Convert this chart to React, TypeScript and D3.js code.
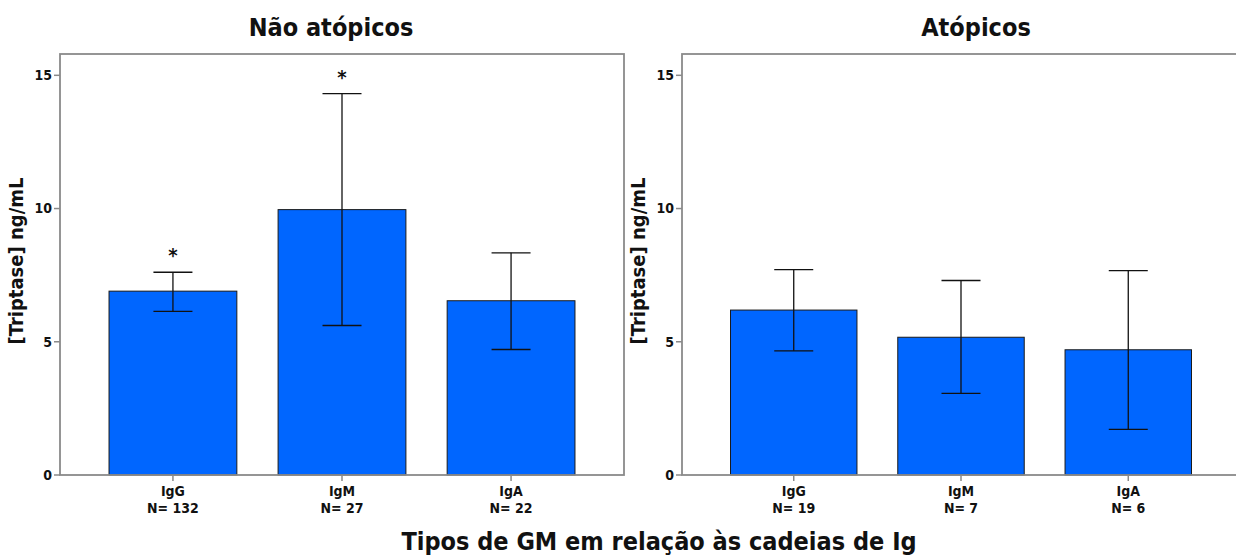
import React from "react";
import * as d3 from "d3";

// Mean tryptase by GM type (Ig chain), with confidence intervals
const categories = ["IgG", "IgM", "IgA"];

const nonAtopicN = [132, 27, 22];
const nonAtopicMean = [6.9, 9.96, 6.54];
const nonAtopicLow = [6.14, 5.61, 4.71];
const nonAtopicHigh = [7.61, 14.31, 8.34];
const nonAtopicStar = [true, true, false];

const atopicN = [19, 7, 6];
const atopicMean = [6.19, 5.17, 4.7];
const atopicLow = [4.66, 3.06, 1.71];
const atopicHigh = [7.71, 7.3, 7.67];
const atopicStar = [false, false, false];

const yTicks = [0, 5, 10, 15];

const W = 1236;
const H = 557;
const FONT = "'DejaVu Sans Condensed', 'DejaVu Sans', sans-serif";
const BLUE = "#0066ff";
const FRAME = "#8a8a8a";

type PanelProps = {
  title: string;
  titleX: number;
  x0: number;
  x1: number;
  n: number[];
  mean: number[];
  low: number[];
  high: number[];
  star: boolean[];
};

const TOP = 54;
const BOTTOM = 475;

function Panel({ title, titleX, x0, x1, n, mean, low, high, star }: PanelProps) {
  const x = d3
    .scaleBand<string>()
    .domain(categories)
    .range([x0, x1])
    .paddingInner(0.244)
    .paddingOuter(0.29);
  const y = d3.scaleLinear().domain([0, 15.8]).range([BOTTOM, TOP]);
  const bw = x.bandwidth();
  const cap = 19.5;

  return (
    <g>
      <text
        x={titleX}
        y={36}
        textAnchor="middle"
        fontFamily={FONT}
        fontWeight="bold"
        fontSize={25}
        fill="#111"
      >
        {title}
      </text>
      <text
        transform={`translate(${x0 - 37},${261}) rotate(-90)`}
        textAnchor="middle"
        fontFamily={FONT}
        fontWeight="bold"
        fontSize={20}
        fill="#111"
      >
        [Triptase] ng/mL
      </text>
      {categories.map((c, i) => {
        const cx = (x(c) as number) + bw / 2;
        return (
          <g key={c}>
            <rect
              x={x(c)}
              y={y(mean[i])}
              width={bw}
              height={y(0) - y(mean[i])}
              fill={BLUE}
              stroke="#1a1a1a"
              strokeWidth={1}
            />
            <g stroke="#111" strokeWidth={1.3}>
              <line x1={cx} x2={cx} y1={y(low[i])} y2={y(high[i])} />
              <line x1={cx - cap} x2={cx + cap} y1={y(high[i])} y2={y(high[i])} />
              <line x1={cx - cap} x2={cx + cap} y1={y(low[i])} y2={y(low[i])} />
            </g>
            {star[i] && (
              <text
                x={cx}
                y={y(high[i]) - 10}
                textAnchor="middle"
                fontFamily={FONT}
                fontWeight="bold"
                fontSize={20}
                fill="#111"
              >
                *
              </text>
            )}
            <line x1={cx} x2={cx} y1={BOTTOM} y2={BOTTOM + 6} stroke={FRAME} strokeWidth={1.5} />
            <text
              x={cx}
              y={496}
              textAnchor="middle"
              fontFamily={FONT}
              fontWeight="bold"
              fontSize={14}
              fill="#111"
            >
              {c}
            </text>
            <text
              x={cx}
              y={513}
              textAnchor="middle"
              fontFamily={FONT}
              fontWeight="bold"
              fontSize={14}
              fill="#111"
            >
              {`N= ${n[i]}`}
            </text>
          </g>
        );
      })}
      <rect
        x={x0}
        y={TOP}
        width={x1 - x0}
        height={BOTTOM - TOP}
        fill="none"
        stroke={FRAME}
        strokeWidth={1.8}
      />
      {yTicks.map((t) => (
        <g key={t}>
          <line x1={x0 - 6} x2={x0} y1={y(t)} y2={y(t)} stroke={FRAME} strokeWidth={1.5} />
          <text
            x={x0 - 8}
            y={y(t)}
            dy="0.35em"
            textAnchor="end"
            fontFamily={FONT}
            fontWeight="bold"
            fontSize={14}
            fill="#111"
          >
            {t}
          </text>
        </g>
      ))}
    </g>
  );
}

export default function App() {
  return (
    <svg
      width={W}
      height={H}
      style={{ position: "absolute", left: 0, top: 0, background: "#fff" }}
    >
      <rect width={W} height={H} fill="#fff" />
      <Panel
        title="Não atópicos"
        titleX={331}
        x0={60}
        x1={624}
        n={nonAtopicN}
        mean={nonAtopicMean}
        low={nonAtopicLow}
        high={nonAtopicHigh}
        star={nonAtopicStar}
      />
      <Panel
        title="Atópicos"
        titleX={976}
        x0={682}
        x1={1240}
        n={atopicN}
        mean={atopicMean}
        low={atopicLow}
        high={atopicHigh}
        star={atopicStar}
      />
      <text
        x={659}
        y={550}
        textAnchor="middle"
        fontFamily={FONT}
        fontWeight="bold"
        fontSize={25}
        fill="#111"
      >
        Tipos de GM em relação às cadeias de Ig
      </text>
    </svg>
  );
}
